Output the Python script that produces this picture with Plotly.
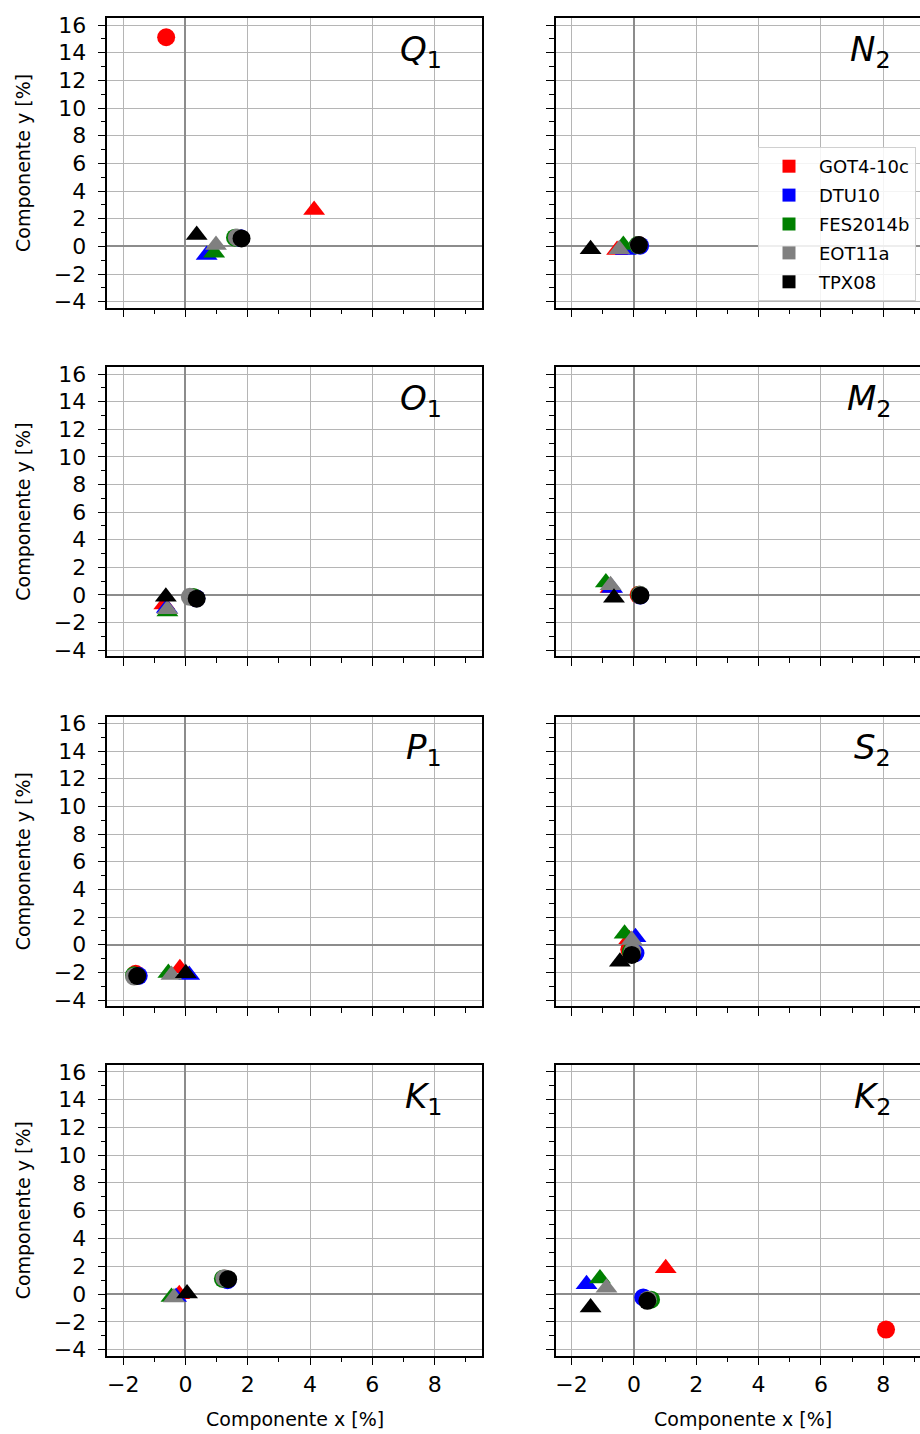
import plotly.graph_objects as go

# Tidal constituents, left column top-to-bottom then right column
constituents = ["Q1", "O1", "P1", "K1", "N2", "M2", "S2", "K2"]
models = ["GOT4-10c", "DTU10", "FES2014b", "EOT11a", "TPX08"]

# Circle markers (x, y) per constituent, in %
got_circ_x = [-0.62, 0.30, -1.60, 1.25, 0.15, 0.15, -0.15, 8.09]
got_circ_y = [15.12, -0.20, -2.10, 1.10, 0.10, 0.00, -0.35, -2.55]
dtu_circ_x = [1.75, 0.35, -1.50, 1.35, 0.20, 0.20, 0.05, 0.30]
dtu_circ_y = [0.60, -0.25, -2.25, 1.00, 0.05, -0.05, -0.60, -0.24]
fes_circ_x = [1.59, 0.25, -1.65, 1.20, 0.12, 0.18, -0.10, 0.55]
fes_circ_y = [0.63, -0.15, -2.20, 1.10, 0.10, 0.00, -0.50, -0.40]
eot_circ_x = [1.65, 0.14, -1.65, 1.25, 0.15, 0.20, -0.05, 0.45]
eot_circ_y = [0.65, -0.14, -2.30, 1.15, 0.10, 0.00, -0.50, -0.40]
tpx_circ_x = [1.80, 0.36, -1.55, 1.37, 0.16, 0.21, -0.07, 0.43]
tpx_circ_y = [0.58, -0.28, -2.26, 1.08, 0.10, -0.04, -0.74, -0.48]

# Triangle markers (x, y) per constituent, in %
got_tri_x = [4.13, -0.68, -0.18, -0.20, -0.54, -0.75, -0.15, 1.02]
got_tri_y = [2.63, -0.70, -1.70, 0.00, -0.26, 0.50, 0.40, 1.86]
dtu_tri_x = [0.68, -0.60, 0.12, -0.30, -0.26, -0.70, 0.05, -1.52]
dtu_tri_y = [-0.62, -0.95, -2.18, -0.20, -0.26, 0.50, 0.55, 0.72]
fes_tri_x = [0.92, -0.58, -0.55, -0.45, -0.34, -0.90, -0.30, -1.09]
fes_tri_y = [-0.45, -1.20, -2.05, -0.20, 0.10, 0.90, 0.80, 1.13]
eot_tri_x = [0.98, -0.58, -0.45, -0.37, -0.47, -0.75, -0.07, -0.88]
eot_tri_y = [0.10, -1.05, -2.18, -0.24, -0.20, 0.70, 0.35, 0.46]
tpx_tri_x = [0.36, -0.63, 0.01, 0.05, -1.39, -0.64, -0.45, -1.39]
tpx_tri_y = [0.82, -0.14, -2.06, 0.05, -0.21, -0.21, -1.23, -0.96]

circ_x = [got_circ_x, dtu_circ_x, fes_circ_x, eot_circ_x, tpx_circ_x]
circ_y = [got_circ_y, dtu_circ_y, fes_circ_y, eot_circ_y, tpx_circ_y]
tri_x = [got_tri_x, dtu_tri_x, fes_tri_x, eot_tri_x, tpx_tri_x]
tri_y = [got_tri_y, dtu_tri_y, fes_tri_y, eot_tri_y, tpx_tri_y]

colors = ["#ff0000", "#0000ff", "#008000", "#808080", "#000000"]

W, H = 920, 1434
FONT = "DejaVu Sans"
col_px = [(107.3, 482.0), (555.7, 920.0)]
row_px = [(18.3, 307.7), (367.3, 656.0), (716.7, 1006.0), (1065.0, 1355.7)]
x_ranges = [[-2.51, 9.52], [-2.51, 9.18]]
y_range = [-4.43, 16.49]

fig = go.Figure()

for p, name in enumerate(constituents):
    col, row = divmod(p, 4)
    ax = p + 1
    xa = "x" if ax == 1 else f"x{ax}"
    ya = "y" if ax == 1 else f"y{ax}"
    for m in range(len(models)):
        fig.add_trace(go.Scatter(
            x=[circ_x[m][p], tri_x[m][p]],
            y=[circ_y[m][p], tri_y[m][p]],
            mode="markers",
            marker=dict(symbol=["circle", "triangle-up"], size=[18, 19],
                        color=colors[m], opacity=1, line=dict(width=0)),
            xaxis=xa, yaxis=ya, showlegend=False, hoverinfo="skip",
        ))

    x0, x1 = col_px[col]
    y0, y1 = row_px[row]
    bottom = row == 3
    left = col == 0
    fig.layout[f"xaxis{ax}"] = dict(
        domain=[x0 / W, x1 / W], range=x_ranges[col], anchor=ya,
        tick0=0, dtick=2, ticks="outside", ticklen=8, tickwidth=1.4,
        tickcolor="black", showticklabels=bottom,
        tickfont=dict(family=FONT, size=22, color="black"),
        showgrid=True, gridcolor="#b5b5b5", gridwidth=1.3,
        zeroline=True, zerolinecolor="#8c8c8c", zerolinewidth=1.5,
        showline=True, linecolor="black", linewidth=1.5, mirror=True,
        minor=dict(dtick=1, ticks="outside", ticklen=5, tickwidth=1.2,
                   tickcolor="black", showgrid=False),
        fixedrange=True, automargin=False,
    )
    fig.layout[f"yaxis{ax}"] = dict(
        domain=[1 - y1 / H, 1 - y0 / H], range=y_range, anchor=xa,
        tick0=0, dtick=2, ticks="outside", ticklen=8, tickwidth=1.4,
        tickcolor="black", showticklabels=left, ticklabelstandoff=7,
        tickfont=dict(family=FONT, size=22, color="black"),
        showgrid=True, gridcolor="#b5b5b5", gridwidth=1.3,
        zeroline=True, zerolinecolor="#8c8c8c", zerolinewidth=1.5,
        showline=True, linecolor="black", linewidth=1.5, mirror=left,
        minor=dict(dtick=1, ticks="outside", ticklen=5, tickwidth=1.2,
                   tickcolor="black", showgrid=False),
        fixedrange=True, automargin=False,
    )

    # constituent label in the upper-right corner
    fig.add_annotation(
        x=8.3, y=14.1, xref=xa, yref=ya, xanchor="right", yanchor="middle",
        text=f"<i>{name[0]}</i><sub>{name[1:]}</sub>", showarrow=False,
        font=dict(family=FONT, size=34, color="black"),
    )

    if left:
        fig.add_annotation(
            x=23 / W, y=1 - (y0 + y1) / 2 / H, xref="paper", yref="paper",
            text="Componente y [%]", textangle=-90, showarrow=False,
            xanchor="center", yanchor="middle",
            font=dict(family=FONT, size=19, color="black"),
        )
    if bottom:
        cx = (x0 + (x0 + 374.7)) / 2
        fig.add_annotation(
            x=cx / W, y=1 - 1419 / H, xref="paper", yref="paper",
            text="Componente x [%]", showarrow=False,
            xanchor="center", yanchor="middle",
            font=dict(family=FONT, size=19, color="black"),
        )

# legend entries (square swatches)
for m, label in enumerate(models):
    fig.add_trace(go.Scatter(
        x=[None], y=[None], mode="markers", name=label, legendgroup=label,
        marker=dict(symbol="square", size=13, color=colors[m], line=dict(width=0)),
        xaxis="x5", yaxis="y5", showlegend=True,
    ))

fig.update_layout(
    width=W, height=H,
    margin=dict(l=0, r=0, t=0, b=0),
    paper_bgcolor="white", plot_bgcolor="white",
    font=dict(family=FONT, color="black"),
    showlegend=True,
    legend=dict(
        x=758 / W, y=1 - 147 / H, xanchor="left", yanchor="top",
        bgcolor="rgba(255,255,255,0.85)", bordercolor="#d0d0d0", borderwidth=1,
        font=dict(family=FONT, size=18, color="black"),
        itemwidth=50, traceorder="grouped", tracegroupgap=2.5,
    ),
)

fig.write_html("out.html")
